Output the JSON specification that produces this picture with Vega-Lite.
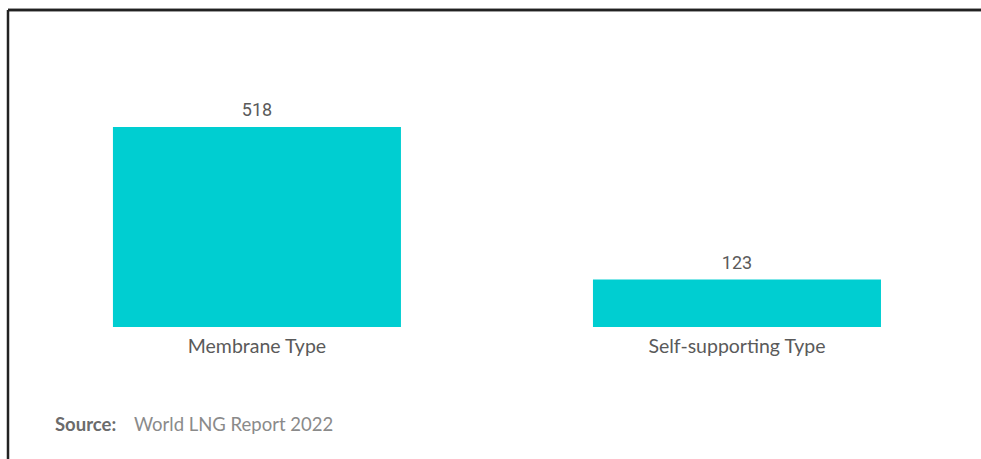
{
  "$schema": "https://vega.github.io/schema/vega-lite/v6.json",
  "autosize": {"type": "none"},
  "padding": {"left": 8, "top": 10, "right": 0, "bottom": 0},
  "width": 973,
  "height": 449,
  "background": "white",
  "config": {"view": {"stroke": null}},
  "layer": [
    {
      "data": {"values": [
        {"type": "Membrane Type", "value": 518},
        {"type": "Self-supporting Type", "value": 123}
      ]},
      "layer": [
        {
          "mark": {"type": "bar", "color": "#00CED1"},
          "encoding": {
            "x": {"field": "type", "type": "nominal", "sort": null, "axis": null,
                  "scale": {"paddingInner": 0.4, "paddingOuter": 0.2135, "align": 0.512}},
            "y": {"field": "value", "type": "quantitative", "axis": null,
                  "scale": {"domain": [-341.9, 821], "nice": false, "zero": false}},
            "y2": {"datum": 0}
          }
        },
        {
          "mark": {"type": "text", "font": "Roboto", "fontSize": 18, "color": "#5a5a5a", "baseline": "alphabetic", "dy": -11},
          "encoding": {
            "x": {"field": "type", "type": "nominal", "sort": null, "axis": null},
            "y": {"field": "value", "type": "quantitative", "axis": null, "scale": {"domain": [-341.9, 821], "nice": false, "zero": false}},
            "text": {"field": "value", "type": "quantitative"}
          }
        },
        {
          "mark": {"type": "text", "font": "Lato", "fontSize": 19.5, "color": "#5a5a5a", "baseline": "alphabetic"},
          "encoding": {
            "x": {"field": "type", "type": "nominal", "sort": null, "axis": null},
            "y": {"datum": -67.3, "type": "quantitative", "axis": null, "scale": {"domain": [-341.9, 821], "nice": false, "zero": false}},
            "text": {"field": "type", "type": "nominal"}
          }
        },
        {
          "data": {"values": [{"label": "Source:", "anchor": "Membrane Type"}]},
          "mark": {"type": "text", "font": "Lato", "fontSize": 18.5, "align": "left", "baseline": "alphabetic", "dx": -58, "color": "#6b6b6b", "fontWeight": "bold"},
          "encoding": {
            "x": {"field": "anchor", "type": "nominal", "bandPosition": 0, "axis": null},
            "y": {"datum": -269.4, "type": "quantitative", "axis": null, "scale": {"domain": [-341.9, 821], "nice": false, "zero": false}},
            "text": {"field": "label"}
          }
        },
        {
          "data": {"values": [{"label": "World LNG Report 2022", "anchor": "Membrane Type"}]},
          "mark": {"type": "text", "font": "Lato", "fontSize": 18.5, "align": "left", "baseline": "alphabetic", "dx": 21, "color": "#8a8a8a"},
          "encoding": {
            "x": {"field": "anchor", "type": "nominal", "bandPosition": 0, "axis": null},
            "y": {"datum": -269.4, "type": "quantitative", "axis": null, "scale": {"domain": [-341.9, 821], "nice": false, "zero": false}},
            "text": {"field": "label"}
          }
        },
        {
          "mark": {"type": "rule", "color": "#222222", "strokeWidth": 2.5},
          "encoding": {
            "y": {"datum": 821, "type": "quantitative", "axis": null, "scale": {"domain": [-341.9, 821], "nice": false, "zero": false}}
          }
        }
      ]
    },
    {
      "data": {"values": [{}]},
      "mark": {"type": "rule", "color": "#222222", "strokeWidth": 2.5},
      "encoding": {
        "x": {"datum": 0, "type": "quantitative", "scale": {"domain": [0, 1]}, "axis": null}
      }
    }
  ],
  "resolve": {"scale": {"x": "independent"}}
}
